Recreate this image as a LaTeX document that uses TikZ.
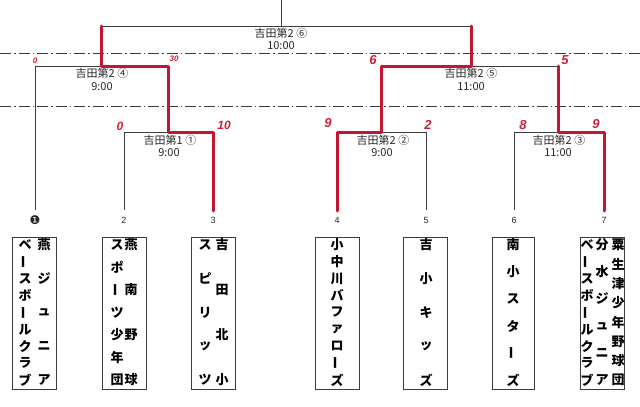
\documentclass[tikz,border=0pt]{standalone}
\usepackage{fontspec}
\usepackage{graphicx}
\newfontfamily\jp{Noto Sans CJK JP}
\newfontfamily\djv{DejaVu Sans}
\setmainfont{Liberation Sans}
\definecolor{redline}{RGB}{195,22,50}
\definecolor{redtxt}{RGB}{205,30,55}
\definecolor{bl}{RGB}{60,60,60}
\newcommand\vb{\rotatebox[origin=c]{90}{ー}}
\newcommand\vcol[6]{% prefix, x, ytop, ybot, n, list
  \foreach \c [count=\i from 0] in {#6} {
    \node[jpc] (#1-\i) at (#2, {#3+\i*(#4-#3)/(#5-1)}) {\c};
  }}
\tikzset{
  bline/.style={draw=bl, line width=0.8pt},
  rline/.style={draw=redline, line width=3pt, line join=round, line cap=round},
  dashdot/.style={draw=bl, line width=0.9pt, dash pattern=on 11pt off 3pt on 1.5pt off 3pt},
  lbl/.style={font=\jp\fontsize{11}{12}\selectfont, inner sep=0pt, text=black!85},
  score/.style={font=\bfseries\itshape, text=redtxt, inner sep=0pt},
  num/.style={font=\fontsize{9}{10}\selectfont, inner sep=0pt, text=black!85},
  teambox/.style={draw=bl, line width=0.9pt, minimum width=44pt, minimum height=152pt, inner sep=0pt},
  jpc/.style={font=\jp\bfseries\fontsize{13}{13}\selectfont, inner sep=0pt},
}
\begin{document}
\begin{tikzpicture}[x=1pt,y=-1pt]
\useasboundingbox (0,0) rectangle (640,407);
% coordinates
\coordinate (top) at (281,0);
\coordinate (fL) at (101,26); \coordinate (fM) at (281,26); \coordinate (fR) at (471,26);
\coordinate (s4L) at (35,66); \coordinate (s4M) at (101,66); \coordinate (s4R) at (168,66);
\coordinate (s5L) at (381,66); \coordinate (s5M) at (471,66); \coordinate (s5R) at (558,66);
\coordinate (m1L) at (124,132); \coordinate (m1M) at (168,132); \coordinate (m1R) at (213,132);
\coordinate (m2L) at (337,132); \coordinate (m2M) at (381,132); \coordinate (m2R) at (426,132);
\coordinate (m3L) at (514,132); \coordinate (m3M) at (558,132); \coordinate (m3R) at (604,132);
\coordinate (e1) at (35,210); \coordinate (e2) at (124,210); \coordinate (e3) at (213,211);
\coordinate (e4) at (337,211); \coordinate (e5) at (426,210); \coordinate (e6) at (514,210);
\coordinate (e7) at (604,211);
\coordinate (d1a) at (0,53); \coordinate (d1b) at (640,53);
\coordinate (d2a) at (0,106); \coordinate (d2b) at (640,106);
% dash-dot lines
\draw[dashdot] (d1a) -- (d1b);
\draw[dashdot] (d2a) -- (d2b);
% black bracket
\draw[bline] (top) -- (fM);
\draw[bline] (fL) -- (fR);
\draw[bline] (fL) -- (s4M);
\draw[bline] (fR) -- (s5M);
\draw[bline] (s4L) -- (s4R);
\draw[bline] (s5L) -- (s5R);
\draw[bline] (s4L) -- (e1);
\draw[bline] (s4R) -- (m1M);
\draw[bline] (s5L) -- (m2M);
\draw[bline] (s5R) -- (m3M);
\draw[bline] (m1L) -- (m1R);
\draw[bline] (m1L) -- (e2);
\draw[bline] (m1R) -- (e3);
\draw[bline] (m2L) -- (m2R);
\draw[bline] (m2L) -- (e4);
\draw[bline] (m2R) -- (e5);
\draw[bline] (m3L) -- (m3R);
\draw[bline] (m3L) -- (e6);
\draw[bline] (m3R) -- (e7);
% red winner paths
\draw[rline] (e3) -- (m1R) -- (m1M) -- (s4R) -- (s4M) -- (fL);
\draw[rline] (e4) -- (m2L) -- (m2M) -- (s5L) -- (s5M) -- (fR);
\draw[rline] (e7) -- (m3R) -- (m3M) -- (s5R);
% match labels
\node[lbl] (g6) at (281,33) {吉田第2 ⑥};
\node[lbl] (t6) at (281,46) {10:00};
\node[lbl] (g4) at (102,73) {吉田第2 ④};
\node[lbl] (t4) at (102,87) {9:00};
\node[lbl] (g5) at (471,73) {吉田第2 ⑤};
\node[lbl] (t5) at (471,87) {11:00};
\node[lbl] (g1) at (170,140) {吉田第1 ①};
\node[lbl] (t1) at (169,153) {9:00};
\node[lbl] (g2) at (383,140) {吉田第2 ②};
\node[lbl] (t2) at (382,153) {9:00};
\node[lbl] (g3) at (559,140) {吉田第2 ③};
\node[lbl] (t3) at (558,153) {11:00};
% scores
\node[score, font=\bfseries\itshape\fontsize{8}{8}\selectfont] (sc1) at (35,61) {0};
\node[score, font=\bfseries\itshape\fontsize{8}{8}\selectfont] (sc2) at (174,59) {30};
\node[score, font=\bfseries\itshape\fontsize{12}{12}\selectfont] (sc3) at (120,126) {0};
\node[score, font=\bfseries\itshape\fontsize{12}{12}\selectfont] (sc4) at (224,125) {10};
\node[score, font=\bfseries\itshape\fontsize{13}{13}\selectfont] (sc5) at (373,60) {6};
\node[score, font=\bfseries\itshape\fontsize{13}{13}\selectfont] (sc6) at (565,60) {5};
\node[score, font=\bfseries\itshape\fontsize{13}{13}\selectfont] (sc7) at (328,123) {9};
\node[score, font=\bfseries\itshape\fontsize{13}{13}\selectfont] (sc8) at (428,125) {2};
\node[score, font=\bfseries\itshape\fontsize{13}{13}\selectfont] (sc9) at (523,125) {8};
\node[score, font=\bfseries\itshape\fontsize{13}{13}\selectfont] (sc10) at (596,124) {9};
% team numbers
\node[num, font=\djv\fontsize{12}{12}\selectfont] (n1) at (35,220) {❶};
\node[num] (n2) at (124,220) {2};
\node[num] (n3) at (213,220) {3};
\node[num] (n4) at (337,220) {4};
\node[num] (n5) at (426,220) {5};
\node[num] (n6) at (514,220) {6};
\node[num] (n7) at (604,220) {7};
% team boxes
\node[teambox] (b1) at (34.5,313) {};
\node[teambox] (b2) at (124,313) {};
\node[teambox] (b3) at (213.5,313) {};
\node[teambox] (b4) at (337,313) {};
\node[teambox] (b5) at (425.5,313) {};
\node[teambox, minimum width=42pt] (b6) at (513,313) {};
\node[teambox] (b7) at (602.5,313) {};
% team names (vertical)
\vcol{a1}{44}{245}{380}{5}{燕,ジ,ュ,ニ,ア}
\vcol{a2}{25}{245}{380}{9}{ベ,\vb,ス,ボ,\vb,ル,ク,ラ,ブ}
\vcol{b1r}{131}{245}{380}{4}{燕,南,野,球}
\vcol{b2l}{117}{245}{380}{7}{ス,ポ,\vb,ツ,少,年,団}
\vcol{c1}{222}{245}{380}{4}{吉,田,北,小}
\vcol{c2}{205}{245}{380}{5}{ス,ピ,リ,ッ,ツ}
\vcol{d1}{337}{245}{380}{9}{小,中,川,バ,フ,ァ,ロ,\vb,ズ}
\vcol{e1c}{426}{245}{380}{5}{吉,小,キ,ッ,ズ}
\vcol{f1}{513}{245}{380}{6}{南,小,ス,タ,\vb,ズ}
\vcol{g1c}{618}{245}{380}{8}{粟,生,津,少,年,野,球,団}
\vcol{g2c}{602}{245}{380}{6}{分,水,ジ,ュ,ニ,ア}
\vcol{g3c}{587}{245}{380}{9}{ベ,\vb,ス,ボ,\vb,ル,ク,ラ,ブ}
\end{tikzpicture}
\end{document}
